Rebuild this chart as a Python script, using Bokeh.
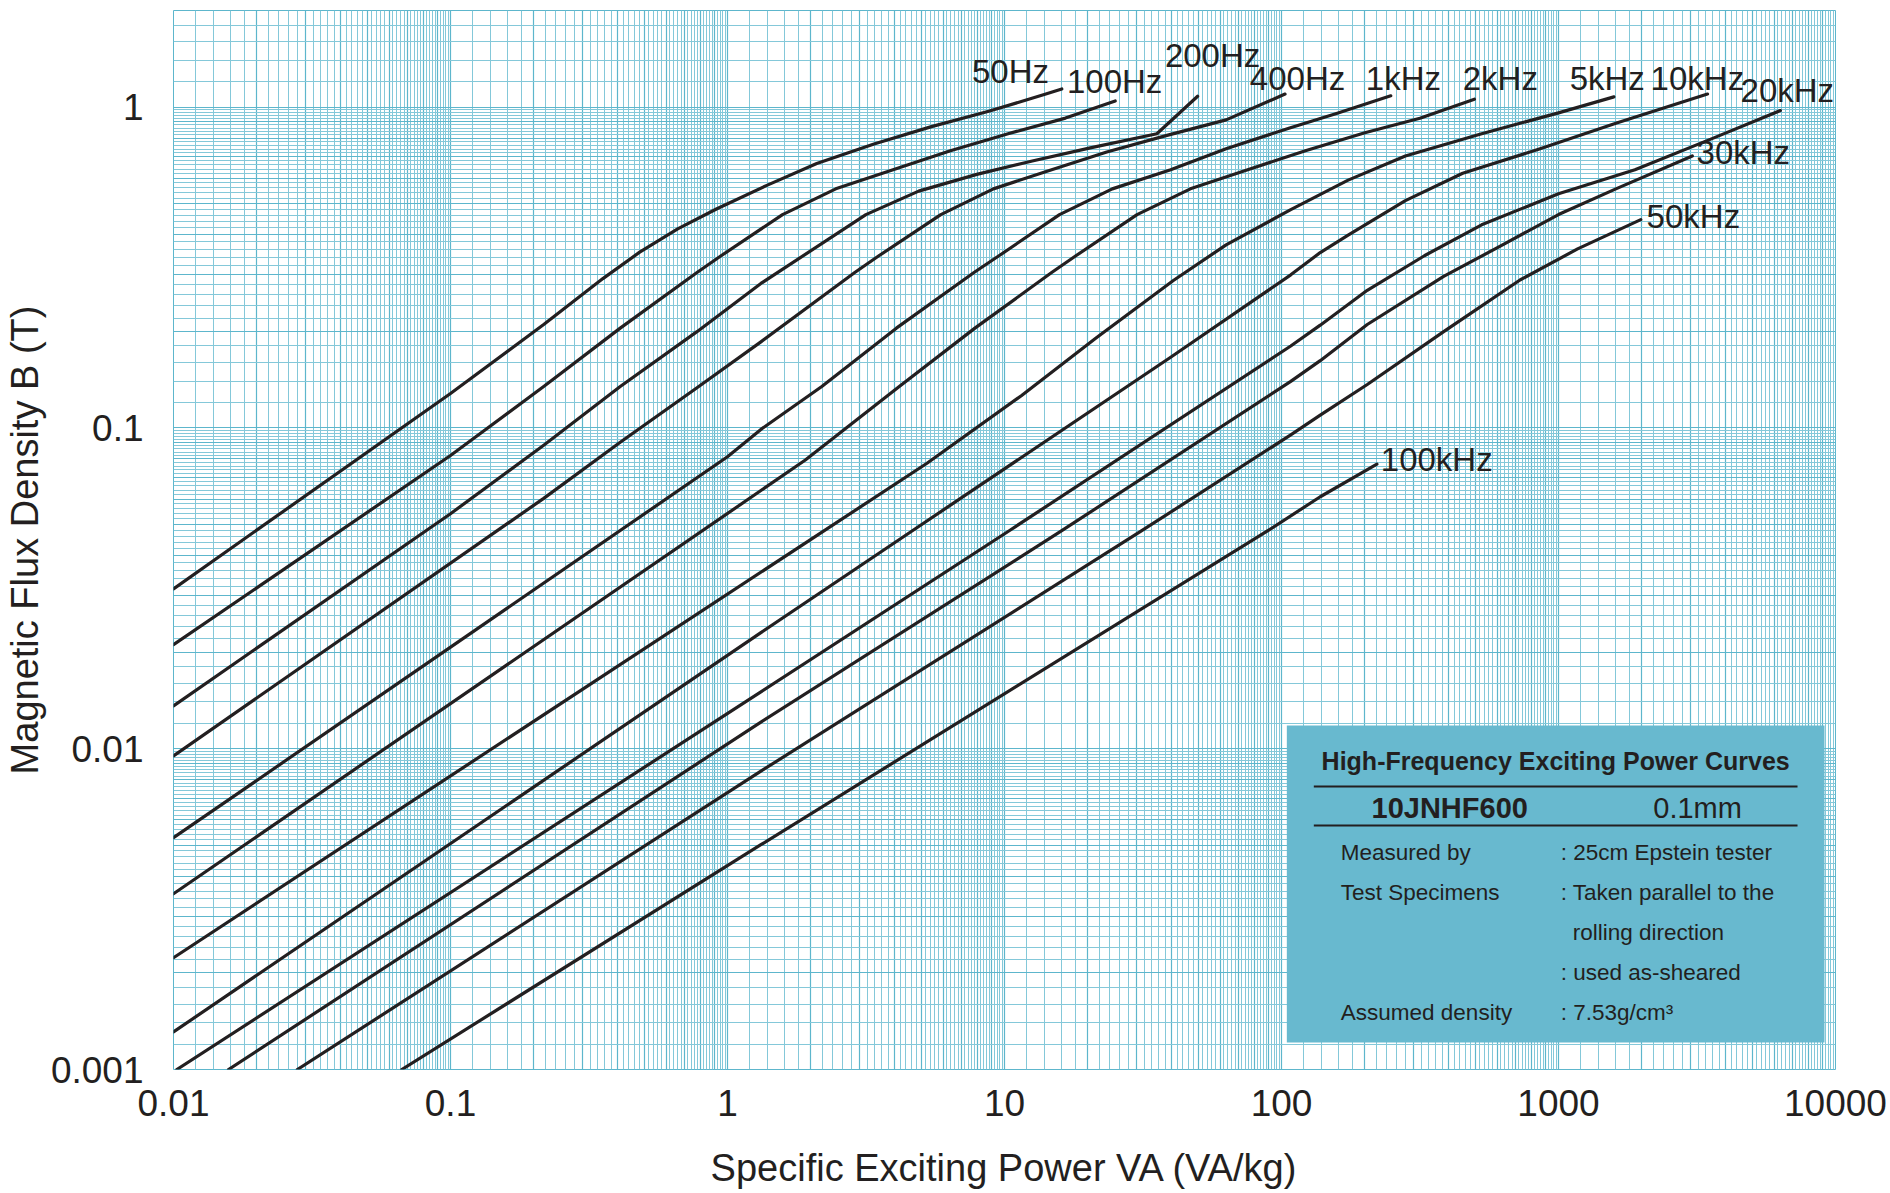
import numpy as np
from bokeh.plotting import figure
from bokeh.models import FixedTicker, Range1d
from bokeh.core.properties import value
from bokeh.embed import file_html
from bokeh.resources import INLINE

# ---------------- data ----------------
x_ticks = [0.01, 0.1, 1, 10, 100, 1000, 10000]
x_tick_labels = ["0.01", "0.1", "1", "10", "100", "1000", "10000"]
y_ticks = [0.001, 0.01, 0.1, 1]
y_tick_labels = ["0.001", "0.01", "0.1", "1"]

freq_labels = ["50Hz", "100Hz", "200Hz", "400Hz", "1kHz", "2kHz",
               "5kHz", "10kHz", "20kHz", "30kHz", "50kHz", "100kHz"]

va_50hz = [0.01, 0.1, 0.217, 0.355, 0.482, 0.661, 0.912, 1.38, 2.10, 3.38, 5.45, 8.77, 14.1, 16.1]
b_50hz = [0.0315, 0.128, 0.210, 0.292, 0.353, 0.417, 0.481, 0.569, 0.667, 0.767, 0.869, 0.970, 1.098, 1.139]

va_100hz = [0.01, 0.1, 0.217, 0.41, 0.776, 0.948, 1.58, 2.46, 3.96, 6.38, 10.3, 16.6, 25.1]
b_100hz = [0.0211, 0.082, 0.1346, 0.2046, 0.305, 0.344, 0.462, 0.556, 0.638, 0.731, 0.826, 0.924, 1.045]

va_200hz = [0.01, 0.1, 0.217, 0.41, 0.776, 1.32, 3.16, 4.90, 7.94, 12.6, 20.4, 35.5, 49.8]
b_200hz = [0.0136, 0.054, 0.0883, 0.1346, 0.1995, 0.282, 0.462, 0.547, 0.617, 0.679, 0.746, 0.826, 1.081]

va_400hz = [0.01, 0.217, 0.41, 0.776, 1.32, 2.88, 3.52, 5.89, 9.12, 14.8, 23.4, 38.0, 63.1, 103]
b_400hz = [0.0095, 0.0603, 0.0902, 0.1334, 0.1854, 0.305, 0.344, 0.462, 0.556, 0.638, 0.724, 0.813, 0.912, 1.098]

va_1khz = [0.01, 1.0, 1.32, 2.19, 4.07, 7.76, 9.55, 15.8, 24.5, 39.8, 63.1, 107, 158, 248]
b_1khz = [0.00528, 0.0813, 0.0989, 0.1346, 0.2046, 0.305, 0.344, 0.462, 0.556, 0.638, 0.741, 0.861, 0.955, 1.084]

va_2khz = [0.01, 1.91, 4.17, 7.82, 14.8, 18.1, 30.1, 46.9, 75.5, 122, 200, 316, 497]
b_2khz = [0.00353, 0.0794, 0.1346, 0.2046, 0.305, 0.344, 0.462, 0.556, 0.638, 0.731, 0.832, 0.923, 1.058]

va_5khz = [0.01, 5.25, 11.5, 21.4, 40.7, 63.1, 108, 174, 280, 528, 1000, 1585]
b_5khz = [0.00223, 0.0776, 0.126, 0.1905, 0.288, 0.372, 0.479, 0.592, 0.704, 0.826, 0.959, 1.076]

va_10khz = [0.01, 1.32, 4.65, 39.8, 108, 138, 174, 280, 451, 853, 1611, 3451]
b_10khz = [0.00131, 0.0230, 0.0478, 0.166, 0.300, 0.352, 0.399, 0.511, 0.622, 0.740, 0.890, 1.098]

va_20khz = [0.01028, 1.32, 10.4, 108, 138, 204, 328, 528, 1000, 1888, 3565, 6324]
b_20khz = [0.001, 0.01503, 0.0478, 0.180, 0.209, 0.2685, 0.344, 0.4295, 0.537, 0.638, 0.796, 0.975]

va_30khz = [0.0158, 1.32, 16.1, 108, 138, 204, 385, 621, 1000, 1611, 3041]
b_30khz = [0.001, 0.0121, 0.0478, 0.1396, 0.162, 0.210, 0.2965, 0.370, 0.4624, 0.556, 0.704]

va_50khz = [0.028, 1.32, 31.3, 108, 138, 204, 385, 726, 1172, 1982]
b_50khz = [0.001, 0.00851, 0.0478, 0.0951, 0.1096, 0.1365, 0.1995, 0.289, 0.3614, 0.4457]

va_100khz = [0.0667, 1.32, 89.3, 138, 221]
b_100khz = [0.001, 0.00502, 0.0478, 0.061, 0.0771]

curves_va = [va_50hz, va_100hz, va_200hz, va_400hz, va_1khz, va_2khz,
             va_5khz, va_10khz, va_20khz, va_30khz, va_50khz, va_100khz]
curves_b = [b_50hz, b_100hz, b_200hz, b_400hz, b_1khz, b_2khz,
            b_5khz, b_10khz, b_20khz, b_30khz, b_50khz, b_100khz]

# ---------------- layout helpers ----------------
W, H = 1888, 1193
FL, FT, FR, FB = 172, 10, 53, 124          # borders (canvas px)
X0, X1 = 0.01, 10000
Y0, Y1 = 0.001, 2.0
FW, FH = W - FL - FR, H - FT - FB


def px_x(ix):
    """canvas x pixel -> data x"""
    return 10 ** (np.log10(X0) + (ix - FL) / FW * np.log10(X1 / X0))


def px_y(iy):
    """canvas y pixel -> data y"""
    return 10 ** (np.log10(Y0) + ((FT + FH) - iy) / FH * np.log10(Y1 / Y0))


INK = "#231f20"
GRID_DARK = "#5db6cc"
GRID_LIGHT = "#84c8d9"
BOX = "#68b9cf"
FONT = "Liberation Sans"

p = figure(width=W, height=H, x_axis_type="log", y_axis_type="log",
           x_range=Range1d(X0, X1), y_range=Range1d(Y0, Y1),
           output_backend="svg", toolbar_location=None,
           min_border_left=FL, min_border_right=FR,
           min_border_top=FT, min_border_bottom=FB)
p.background_fill_color = "white"
p.border_fill_color = "white"
p.outline_line_color = GRID_DARK
p.outline_line_width = 1

# log-paper grid (1.0, 1.2, ... 9.8 in each decade)
steps = np.round(np.arange(1.0, 10.0, 0.2), 1)
ints = np.arange(1, 10)


def paper(lo_exp, hi_exp):
    major, minor = [], []
    for e in range(lo_exp, hi_exp + 1):
        major += [float(m) * 10.0 ** e for m in ints]
        minor += [float(m) * 10.0 ** e for m in steps if abs(m - round(m)) > 1e-6]
    return major, minor


gx_major, gx_minor = paper(-2, 4)
gy_major, gy_minor = paper(-3, 0)
p.xgrid.ticker = FixedTicker(ticks=gx_major, minor_ticks=gx_minor)
p.ygrid.ticker = FixedTicker(ticks=gy_major, minor_ticks=gy_minor)
for g in (p.xgrid, p.ygrid):
    g.grid_line_color = GRID_DARK
    g.grid_line_width = 1.2
    g.minor_grid_line_color = GRID_LIGHT
    g.minor_grid_line_width = 1

# axes
p.xaxis.ticker = FixedTicker(ticks=x_ticks)
p.yaxis.ticker = FixedTicker(ticks=y_ticks)
p.xaxis.major_label_overrides = dict(zip(x_ticks, x_tick_labels))
p.yaxis.major_label_overrides = dict(zip(y_ticks, y_tick_labels))
for ax in (p.xaxis, p.yaxis):
    ax.axis_line_color = None
    ax.major_tick_line_color = None
    ax.minor_tick_line_color = None
    ax.major_label_text_font = FONT
    ax.major_label_text_font_size = "37px"
    ax.major_label_text_color = INK
    ax.axis_label_text_font = FONT
    ax.axis_label_text_font_size = "38px"
    ax.axis_label_text_font_style = "normal"
    ax.axis_label_text_color = INK
p.xaxis.axis_label = "Specific Exciting Power VA (VA/kg)"
p.yaxis.axis_label = "Magnetic Flux Density B (T)"
p.xaxis.major_label_standoff = 14
p.yaxis.major_label_standoff = 24
p.xaxis.axis_label_standoff = 28
p.yaxis.axis_label_standoff = 2

# curves
for va, b in zip(curves_va, curves_b):
    p.line(va, b, line_color=INK, line_width=3.2, line_join="round", line_cap="round")

# curve labels: left edge / vertical centre, canvas pixels
label_px = [(971, 71), (1066, 81), (1164, 55), (1249, 78), (1365, 78), (1462, 78),
            (1569, 78), (1650, 78), (1740, 90), (1696, 152), (1646, 216), (1380, 459)]
p.text(x=[px_x(a) for a, _ in label_px], y=[px_y(b) for _, b in label_px], text=freq_labels,
       text_font=value(FONT), text_font_size="33px", text_color=INK,
       text_align="left", text_baseline="middle")

# info box
p.quad(left=[px_x(1286)], right=[px_x(1824)], bottom=[px_y(1042)], top=[px_y(725)],
       fill_color=BOX, line_color=None)
p.segment(x0=[px_x(1313), px_x(1313)], x1=[px_x(1797), px_x(1797)],
          y0=[px_y(786), px_y(825)], y1=[px_y(786), px_y(825)],
          line_color=INK, line_width=2)

p.text(x=[px_x(1555)], y=[px_y(760)], text=["High-Frequency Exciting Power Curves"],
       text_font=value(FONT), text_font_style="bold", text_font_size="25px",
       text_color=INK, text_align="center", text_baseline="middle")
p.text(x=[px_x(1449)], y=[px_y(807)], text=["10JNHF600"],
       text_font=value(FONT), text_font_style="bold", text_font_size="29px",
       text_color=INK, text_align="center", text_baseline="middle")
p.text(x=[px_x(1697)], y=[px_y(807)], text=["0.1mm"],
       text_font=value(FONT), text_font_size="29px",
       text_color=INK, text_align="center", text_baseline="middle")

left_texts = ["Measured by", "Test Specimens", "Assumed density"]
left_y = [852, 892, 1012]
p.text(x=[px_x(1340)] * 3, y=[px_y(v) for v in left_y], text=left_texts,
       text_font=value(FONT), text_font_size="22.5px", text_color=INK,
       text_align="left", text_baseline="middle")
right_texts = [": 25cm Epstein tester", ": Taken parallel to the", "rolling direction",
               ": used as-sheared", ": 7.53g/cm\u00b3"]
right_x = [1560, 1560, 1572, 1560, 1560]
right_y = [852, 892, 932, 972, 1012]
p.text(x=[px_x(v) for v in right_x], y=[px_y(v) for v in right_y], text=right_texts,
       text_font=value(FONT), text_font_size="22.5px", text_color=INK,
       text_align="left", text_baseline="middle")

open("out.html", "w").write(file_html(p, INLINE))
